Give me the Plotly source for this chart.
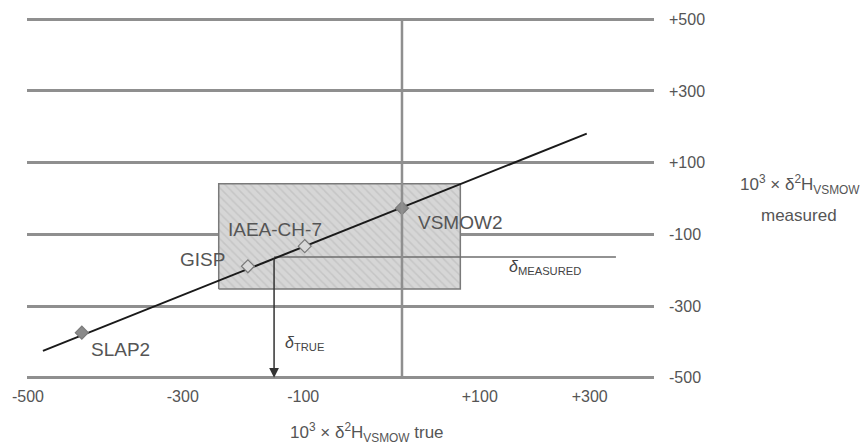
import plotly.graph_objects as go

# Reference materials (true δ2H on x, measured δ2H on y, per mil)
standards = ["SLAP2", "GISP", "IAEA-CH-7", "VSMOW2"]
std_true = [-428, -206, -130, 0]
std_measured = [-374, -189, -133, -27]
std_fill = ["#8a8a8a", "#d9d9d9", "#d9d9d9", "#8a8a8a"]
label_x = [-376, -267, -170, 78]
label_y = [-422, -171, -87, -68]

# Calibration line end points
line_x = [-480, 247]
line_y = [-425, 181]

# Range of the bracketing box
box_x = [-245, 78]
box_y = [-252, 41]

# Unknown sample
delta_measured = -163
delta_true = -171
measured_line_end = 286

# Axis ticks
x_tick_pos = [-500, -293, -132, 104, 251]
x_tick_text = ["-500", "-300", "-100", "+100", "+300"]
y_tick_vals = [500, 300, 100, -100, -300, -500]
y_tick_text = ["+500", "+300", "+100", "-100", "-300", "-500"]

FONT = "Liberation Sans"
GRID = "#8f8f8f"
TEXT = "#555555"

fig = go.Figure()

# Hatched box
fig.add_trace(go.Scatter(
    x=[box_x[0], box_x[1], box_x[1], box_x[0], box_x[0]],
    y=[box_y[0], box_y[0], box_y[1], box_y[1], box_y[0]],
    mode="lines", fill="toself",
    fillcolor="#d4d4d4",
    fillpattern=dict(shape="\\", bgcolor="#d6d6d6", fgcolor="#b4b4b4",
                     size=6, solidity=0.25),
    line=dict(color="#7a7a7a", width=1.5),
    hoverinfo="skip", showlegend=False,
))

# Vertical line at x = 0
fig.add_shape(type="line", x0=0, x1=0, y0=500, y1=-500, xref="x", yref="y",
              line=dict(color=GRID, width=2.5), layer="above")

# Measured value line
fig.add_trace(go.Scatter(
    x=[delta_true, measured_line_end], y=[delta_measured, delta_measured],
    mode="lines", line=dict(color="#6e6e6e", width=1.5),
    hoverinfo="skip", showlegend=False,
))

# Calibration line
fig.add_trace(go.Scatter(
    x=line_x, y=line_y, mode="lines",
    line=dict(color="#1a1a1a", width=2),
    hoverinfo="skip", showlegend=False,
))

# Standards
fig.add_trace(go.Scatter(
    x=std_true, y=std_measured, mode="markers",
    marker=dict(symbol="diamond", size=10, color=std_fill,
                line=dict(color="#7a7a7a", width=1.2)),
    hoverinfo="skip", showlegend=False,
))

for name, lx, ly in zip(standards, label_x, label_y):
    fig.add_annotation(x=lx, y=ly, xref="x", yref="y", text=name,
                       showarrow=False,
                       font=dict(family=FONT, size=19, color=TEXT))

# Arrow down to the true value
fig.add_annotation(x=delta_true, y=-500, ax=delta_true, ay=delta_measured,
                   xref="x", yref="y", axref="x", ayref="y",
                   text="", showarrow=True, arrowhead=2, arrowsize=1.3,
                   arrowwidth=1.5, arrowcolor="#333333", standoff=0)

fig.add_annotation(x=140, y=-193, xref="x", yref="y", xanchor="left",
                   text="<i>δ</i><sub>MEASURED</sub>", showarrow=False,
                   font=dict(family=FONT, size=16, color="#444444"))
fig.add_annotation(x=-159, y=-405, xref="x", yref="y", xanchor="left",
                   text="<i>δ</i><sub>TRUE</sub>", showarrow=False,
                   font=dict(family=FONT, size=16, color="#444444"))

# Axis titles
PLOT_L, PLOT_R, PLOT_T, PLOT_B = 27, 654, 12, 385


def px(x):
    return (x - PLOT_L) / (PLOT_R - PLOT_L)


def py(y):
    return (PLOT_B - y) / (PLOT_B - PLOT_T)


title_font = dict(family=FONT, size=17, color=TEXT)
fig.add_annotation(x=px(800), y=py(184), xref="paper", yref="paper",
                   xanchor="center", yanchor="middle",
                   text="10<sup>3</sup> × δ<sup>2</sup>H<sub>VSMOW</sub>",
                   showarrow=False, font=title_font)
fig.add_annotation(x=px(799), y=py(216), xref="paper", yref="paper",
                   xanchor="center", yanchor="middle",
                   text="measured", showarrow=False, font=title_font)
fig.add_annotation(x=px(367), y=py(432), xref="paper", yref="paper",
                   xanchor="center", yanchor="middle",
                   text="10<sup>3</sup> × δ<sup>2</sup>H<sub>VSMOW</sub> true",
                   showarrow=False, font=title_font)

fig.update_layout(
    width=865, height=444,
    margin=dict(l=PLOT_L, r=865 - PLOT_R, t=PLOT_T, b=444 - PLOT_B),
    paper_bgcolor="white", plot_bgcolor="white",
    showlegend=False,
    xaxis=dict(range=[-501.3, 336.9], showgrid=False, zeroline=False,
               showline=False, tickmode="array", tickvals=x_tick_pos,
               ticktext=x_tick_text, ticks="", ticklabelstandoff=0,
               tickfont=dict(family=FONT, size=16, color=TEXT)),
    yaxis=dict(range=[-520, 520], side="right", showgrid=True,
               gridcolor=GRID, gridwidth=2.5, zeroline=False,
               showline=False, tickmode="array", tickvals=y_tick_vals,
               ticktext=y_tick_text, ticks="", ticklabelstandoff=14,
               tickfont=dict(family=FONT, size=16, color=TEXT)),
)

fig.write_html("out.html")
